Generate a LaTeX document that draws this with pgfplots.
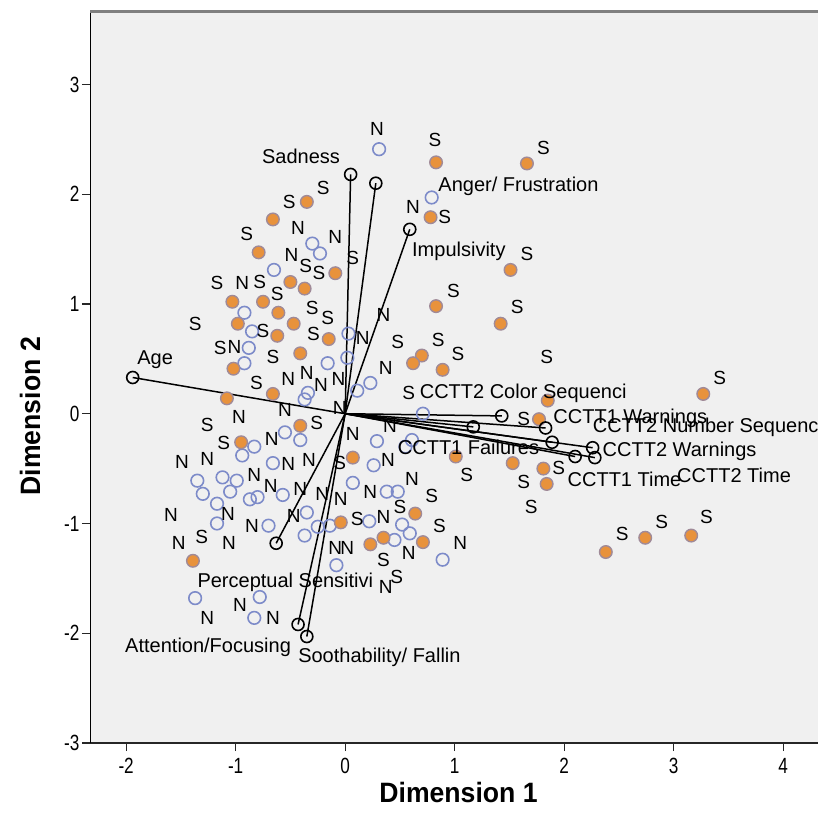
\documentclass[border=0pt]{standalone}
\usepackage{fontspec}
\setmainfont{Liberation Sans}
\usepackage{graphicx}
\usepackage{pgfplots}
\pgfplotsset{compat=1.18}
\definecolor{nblue}{HTML}{7D8BC9}
\definecolor{sorange}{HTML}{E8923C}
\definecolor{sedge}{HTML}{A08A98}
\definecolor{bg}{HTML}{F0F0F0}
\begin{document}
\begin{tikzpicture}[x=1pt,y=1pt]
\useasboundingbox (0,0) rectangle (818,829);
\begin{axis}[
  at={(90pt,86pt)}, anchor=south west,
  scale only axis, width=737pt, height=731pt,
  xmin=-2.33, xmax=4.40, ymin=-3, ymax=3.66,
  axis background/.style={fill=bg},
  separate axis lines,
  axis x line*=bottom, axis y line*=left,
  x axis line style={line width=2.4pt, black!85},
  y axis line style={line width=1pt, black},
  xtick={-2,-1,0,1,2,3,4}, ytick={-3,-2,-1,0,1,2,3},
  tick align=outside, major tick length=8pt,
  tick style={black!85, line width=1.2pt},
  /pgf/number format/assume math mode=true,
  tick label style={font=\fontsize{22}{26}\selectfont},
  xticklabel={\scalebox{0.78}[1]{\pgfmathprintnumber{\tick}}},
  yticklabel={\scalebox{0.78}[1]{\pgfmathprintnumber{\tick}}},
  xticklabel style={yshift=-4pt},
  yticklabel style={xshift=1pt},
  xlabel={\scalebox{0.95}[1]{\bfseries Dimension 1}},
  ylabel={\scalebox{0.95}[1]{\bfseries Dimension 2}},
  label style={font=\fontsize{28}{32}\selectfont},
  x label style={at={(rel axis cs:0.5,0)}, anchor=center, yshift=-49pt},
  y label style={at={(rel axis cs:-0.0814,0.447)}, anchor=center},
  clip=false,
]
% N objects
\addplot[only marks, mark=o, mark size=6.3pt, color=nblue, mark options={line width=1.6pt}] table {
x y
0.31 2.41
-0.30 1.55
-0.23 1.46
-0.65 1.31
-0.92 0.92
-0.85 0.75
0.03 0.73
-0.88 0.60
-0.92 0.46
-0.16 0.46
0.02 0.51
0.23 0.28
-0.34 0.19
-0.37 0.13
0.11 0.21
0.71 0.00
-0.55 -0.17
-0.41 -0.24
-0.83 -0.30
-0.94 -0.38
0.29 -0.25
0.61 -0.24
0.55 -0.30
-0.66 -0.45
0.26 -0.47
-1.35 -0.61
-1.12 -0.58
-0.99 -0.61
-1.30 -0.73
-1.05 -0.71
-1.17 -0.82
-0.87 -0.78
-0.80 -0.76
-0.57 -0.74
0.07 -0.63
0.38 -0.71
0.48 -0.71
-0.35 -0.90
-1.17 -1.00
-0.70 -1.02
-0.37 -1.11
-0.25 -1.03
-0.14 -1.02
0.22 -0.98
0.52 -1.01
0.59 -1.09
0.45 -1.15
-0.08 -1.38
0.89 -1.33
-1.37 -1.68
-0.78 -1.67
-0.83 -1.86
0.79 1.97
};
% S objects
\addplot[only marks, mark=*, mark size=6.3pt, mark options={fill=sorange, draw=sedge, line width=1.4pt}] table {
x y
0.83 2.29
1.66 2.28
0.78 1.79
-0.35 1.93
-0.66 1.77
-0.79 1.47
-0.09 1.28
-0.50 1.20
-0.37 1.14
-1.03 1.02
-0.75 1.02
-0.61 0.92
-0.98 0.82
-0.47 0.82
-0.62 0.71
-0.15 0.68
1.51 1.31
0.83 0.98
1.42 0.82
-0.41 0.55
-1.02 0.41
-0.66 0.18
-1.08 0.14
0.70 0.53
0.62 0.46
0.89 0.40
3.27 0.18
1.85 0.12
1.77 -0.05
-0.41 -0.11
-0.95 -0.26
0.07 -0.40
1.01 -0.39
1.53 -0.45
1.81 -0.50
1.84 -0.64
0.64 -0.91
-0.04 -0.99
0.23 -1.19
0.35 -1.13
0.71 -1.17
-1.39 -1.34
2.38 -1.26
2.74 -1.13
3.16 -1.11
};
% loading vectors
\pgfplotsset{vec/.style={black, line width=1.5pt, mark=o, mark indices={2}, mark size=6pt, mark options={line width=1.6pt}}}
\addplot[vec] coordinates {(0,0) (-1.94,0.33)};
\addplot[vec] coordinates {(0,0) (0.05,2.18)};
\addplot[vec] coordinates {(0,0) (0.28,2.10)};
\addplot[vec] coordinates {(0,0) (0.59,1.68)};
\addplot[vec] coordinates {(0,0) (1.43,-0.02)};
\addplot[vec] coordinates {(0,0) (1.83,-0.13)};
\addplot[vec] coordinates {(0,0) (1.89,-0.26)};
\addplot[vec] coordinates {(0,0) (2.26,-0.31)};
\addplot[vec] coordinates {(0,0) (2.10,-0.39)};
\addplot[vec] coordinates {(0,0) (2.28,-0.40)};
\addplot[vec] coordinates {(0,0) (1.17,-0.12)};
\addplot[vec] coordinates {(0,0) (-0.63,-1.18)};
\addplot[vec] coordinates {(0,0) (-0.43,-1.92)};
\addplot[vec] coordinates {(0,0) (-0.35,-2.03)};
% N / S labels
\addplot[draw=none, nodes near coords, point meta=explicit symbolic,
  every node near coord/.append style={anchor=center, inner sep=0pt, font=\fontsize{19}{22}\selectfont, text=black}]
  table[meta=l] {
x y l
0.29 2.59 N
0.62 1.88 N
-0.43 1.69 N
-0.09 1.61 N
-0.49 1.45 N
-0.94 1.19 N
0.35 0.90 N
0.16 0.69 N
-1.01 0.61 N
0.37 0.42 N
-0.52 0.32 N
-0.35 0.37 N
-0.22 0.26 N
-0.06 0.32 N
-0.55 0.03 N
-0.97 -0.03 N
-0.05 0.05 N
0.41 -0.11 N
-0.67 -0.23 N
0.07 -0.18 N
-1.49 -0.44 N
-1.26 -0.41 N
-0.52 -0.46 N
-0.33 -0.42 N
0.39 -0.42 N
-0.83 -0.56 N
-0.68 -0.66 N
-0.41 -0.69 N
-0.21 -0.73 N
-0.04 -0.78 N
0.23 -0.71 N
0.61 -0.59 N
-1.59 -0.92 N
-1.07 -0.91 N
-0.85 -1.02 N
-0.47 -0.93 N
0.35 -0.94 N
-1.52 -1.18 N
-1.06 -1.18 N
-0.09 -1.22 N
0.02 -1.22 N
0.58 -1.27 N
1.05 -1.18 N
0.37 -1.58 N
-0.96 -1.74 N
-1.26 -1.86 N
-0.66 -1.86 N
-0.20 2.06 S
-0.51 1.93 S
0.82 2.49 S
1.81 2.42 S
0.91 1.79 S
-0.90 1.64 S
0.07 1.42 S
-0.36 1.35 S
-0.24 1.28 S
-1.17 1.19 S
-0.78 1.20 S
1.66 1.46 S
-0.62 1.09 S
-0.30 0.96 S
0.99 1.12 S
1.57 0.97 S
-1.37 0.82 S
-0.16 0.87 S
-0.75 0.75 S
-0.29 0.73 S
0.48 0.65 S
0.85 0.67 S
1.03 0.54 S
1.84 0.52 S
-1.14 0.60 S
-0.66 0.52 S
-0.81 0.28 S
0.58 0.19 S
3.42 0.33 S
1.63 -0.05 S
-1.26 -0.10 S
-0.26 -0.08 S
-1.11 -0.27 S
-0.05 -0.45 S
1.11 -0.56 S
1.95 -0.49 S
1.63 -0.62 S
0.79 -0.75 S
1.70 -0.85 S
0.50 -0.85 S
0.11 -0.96 S
0.86 -1.02 S
2.89 -0.99 S
2.53 -1.10 S
3.30 -0.94 S
-1.31 -1.12 S
0.35 -1.33 S
0.47 -1.49 S
};
% vector labels
\addplot[draw=none, nodes near coords, point meta=explicit symbolic,
  every node near coord/.append style={anchor=base west, inner sep=0pt, font=\fontsize{20}{24}\selectfont, text=black}]
  table[meta=lab, col sep=comma, row sep=\\] {
x,y,lab\\
-0.76,2.28,Sadness\\
0.85,2.02,Anger/ Frustration\\
0.61,1.43,Impulsivity\\
-1.90,0.45,Age\\
0.68,0.14,CCTT2 Color Sequenci\\
1.90,-0.09,CCTT1 Warnings\\
2.26,-0.17,CCTT2 Number Sequenc\\
2.35,-0.39,CCTT2 Warnings\\
0.48,-0.37,CCTT1 Failures\\
2.03,-0.66,CCTT1 Time\\
3.03,-0.63,CCTT2 Time\\
-1.35,-1.58,Perceptual Sensitivi\\
-2.01,-2.18,Attention/Focusing\\
-0.43,-2.27,Soothability/ Fallin\\
};
\draw[black!50, line width=3pt] (rel axis cs:0,1) -- (rel axis cs:1,1);
\end{axis}
\end{tikzpicture}
\end{document}
